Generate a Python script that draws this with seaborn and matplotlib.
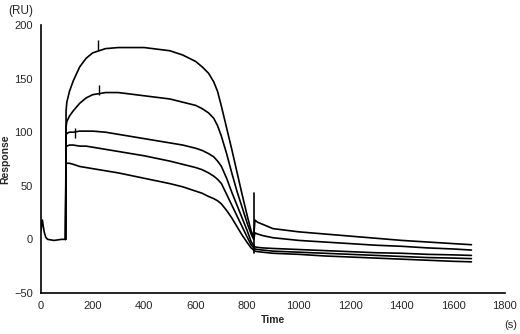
import pandas as pd
import matplotlib
matplotlib.use("Agg")
import matplotlib.pyplot as plt
from matplotlib.ticker import MultipleLocator
import seaborn as sns

# Baseline before injection (shared by all curves)
base_time = [0, 3, 5, 8, 12, 18, 25, 50, 80, 95]
base_resp = [8, 16, 18, 13, 7, 2, 0, -1, 0, 0]

# Association / dissociation phase
time = [95, 97, 100, 110, 125, 150, 175, 200, 250, 300, 400, 500, 550, 600,
        625, 650, 670, 685, 700, 720, 740, 760, 780, 800, 815, 825, 830, 840,
        860, 900, 1000, 1100, 1200, 1300, 1400, 1500, 1600, 1670]

curve1 = [0, 120, 128, 138, 148, 161, 169, 174, 178, 179, 179, 176, 172, 166,
          161, 155, 147, 138, 124, 104, 84, 63, 42, 22, 8, 2, 18, 16,
          14, 10, 7, 5, 3, 1, -1, -2.5, -4, -5]
curve2 = [0, 105, 110, 115, 120, 127, 132, 135, 137, 137, 134, 131, 128, 125,
          122, 118, 113, 106, 96, 80, 62, 45, 30, 15, 5, 0, 6, 5,
          3.5, 1.5, -1, -2.5, -4, -5.5, -6.5, -8, -9, -10]
curve3 = [0, 97, 99, 100, 100, 101, 101, 101, 100, 98, 94, 90, 88, 85,
          83, 80, 77, 73, 68, 57, 44, 32, 20, 8, -2, -6, -7, -7.5,
          -8, -8.5, -9.5, -10.5, -11.5, -12.5, -13, -14, -14.5, -15]
curve4 = [0, 86, 87, 88, 88, 87, 87, 86, 84, 82, 78, 73, 70, 67,
          65, 62, 59, 56, 52, 42, 32, 22, 12, 2, -5, -8, -9, -9.5,
          -10, -11, -12, -13, -14, -15, -16, -17, -17.5, -18]
curve5 = [0, 72, 71, 71, 70, 68, 67, 66, 64, 62, 57, 52, 49, 45,
          43, 40, 38, 36, 33, 27, 20, 12, 4, -3, -8, -10, -11, -11.5,
          -12, -13, -14, -15.5, -16.5, -17.5, -18.5, -19.5, -20.5, -21]

# Injection spike and report-point marks
spike_time = [828, 828]
spike_resp = [43, -13]
mark_time = [220, 225, 132]
mark_resp = [181, 139, 99]

frames = [pd.DataFrame({"Time": base_time, "Response": base_resp, "curve": "base"})]
for name, vals in zip(["c1", "c2", "c3", "c4", "c5"],
                      [curve1, curve2, curve3, curve4, curve5]):
    frames.append(pd.DataFrame({"Time": time, "Response": vals, "curve": name}))
frames.append(pd.DataFrame({"Time": spike_time, "Response": spike_resp, "curve": "spike"}))
df = pd.concat(frames, ignore_index=True)

sns.set_style("white")
plt.rcParams["font.family"] = ["Liberation Sans", "DejaVu Sans"]

fig = plt.figure(figsize=(5.2, 3.34), dpi=100)
ax = fig.add_axes([0.079, 0.123, 0.892, 0.802])

sns.lineplot(data=df, x="Time", y="Response", units="curve", estimator=None,
             sort=False, color="black", linewidth=1.2, ax=ax)
ax.plot(mark_time, mark_resp, linestyle="none", marker="|", markersize=7,
        color="black", markeredgewidth=1.0)

ax.set_xlim(0, 1800)
ax.set_ylim(-50, 200)
ax.xaxis.set_major_locator(MultipleLocator(200))
ax.xaxis.set_minor_locator(MultipleLocator(100))
ax.yaxis.set_major_locator(MultipleLocator(50))
ax.yaxis.set_minor_locator(MultipleLocator(25))
ax.tick_params(axis="x", which="major", direction="inout", length=6, width=1,
               labelsize=8, pad=3)
ax.tick_params(axis="x", which="minor", direction="inout", length=3, width=1)
ax.tick_params(axis="y", which="major", direction="out", length=4, width=1,
               labelsize=8, pad=2)
ax.tick_params(axis="y", which="minor", direction="out", length=2, width=1)

for side in ["top", "right"]:
    ax.spines[side].set_visible(False)
for side in ["left", "bottom"]:
    ax.spines[side].set_color("black")
    ax.spines[side].set_linewidth(1.2)

ax.set_xlabel("Time", fontsize=7.5, fontweight="bold", labelpad=3)
ax.set_ylabel("Response", fontsize=7.5, fontweight="bold")
ax.yaxis.set_label_coords(-0.066, 0.5)
fig.text(0.015, 0.968, "(RU)", fontsize=8.5, ha="left", va="center")
fig.text(0.995, 0.027, "(s)", fontsize=8, ha="right", va="center")

fig.savefig("out.png", dpi=100)
